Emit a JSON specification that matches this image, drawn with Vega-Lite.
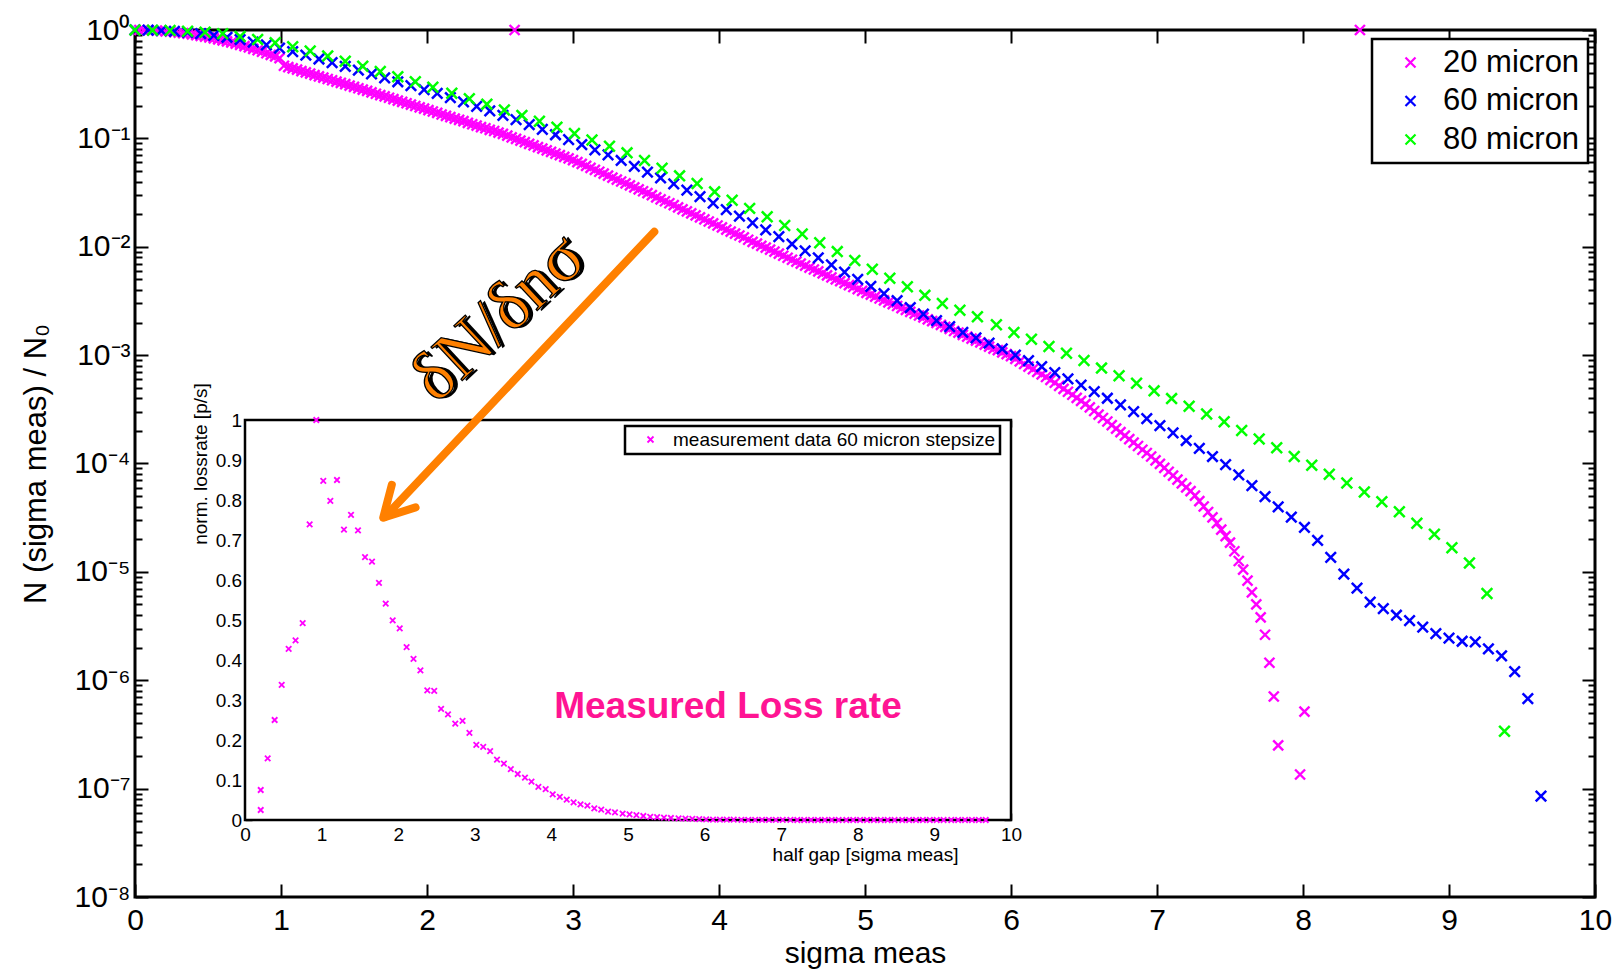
{
  "$schema": "https://vega.github.io/schema/vega-lite/v6.json",
  "width": 1460,
  "height": 867,
  "autosize": {"type": "none"},
  "padding": {"left": 135, "top": 30, "right": 23, "bottom": 75},
  "config": {
    "view": {"stroke": "#000", "strokeWidth": 3},
    "font": "Liberation Sans",
    "axis": {"domain": false, "grid": false, "labelFlush": false, "labelOverlap": false, "tickColor": "#000", "labelColor": "#000", "titleColor": "#000", "labelFont": "Liberation Sans", "titleFont": "Liberation Sans", "titleFontWeight": "normal"},
    "legend": {"strokeWidth": 2.5, "labelFont": "Liberation Sans", "labelColor": "#000"}
  },
  "datasets": {
    "m20": [{"x":0,"y":1},{"x":0.03,"y":1},{"x":0.06,"y":0.998},{"x":0.09,"y":0.995},{"x":0.12,"y":0.991},{"x":0.15,"y":0.986},{"x":0.18,"y":0.98},{"x":0.21,"y":0.973},{"x":0.24,"y":0.965},{"x":0.27,"y":0.956},{"x":0.3,"y":0.947},{"x":0.33,"y":0.936},{"x":0.36,"y":0.924},{"x":0.39,"y":0.911},{"x":0.42,"y":0.898},{"x":0.45,"y":0.884},{"x":0.48,"y":0.869},{"x":0.51,"y":0.853},{"x":0.54,"y":0.837},{"x":0.57,"y":0.82},{"x":0.6,"y":0.803},{"x":0.63,"y":0.785},{"x":0.66,"y":0.767},{"x":0.69,"y":0.748},{"x":0.72,"y":0.729},{"x":0.75,"y":0.71},{"x":0.78,"y":0.69},{"x":0.81,"y":0.67},{"x":0.84,"y":0.65},{"x":0.87,"y":0.63},{"x":0.9,"y":0.61},{"x":0.93,"y":0.59},{"x":0.96,"y":0.57},{"x":0.99,"y":0.55},
{"x":1.02,"y":0.468},{"x":1.05,"y":0.455},{"x":1.08,"y":0.443},{"x":1.11,"y":0.43},{"x":1.14,"y":0.418},{"x":1.17,"y":0.406},{"x":1.2,"y":0.395},{"x":1.23,"y":0.384},{"x":1.26,"y":0.374},{"x":1.29,"y":0.363},{"x":1.32,"y":0.353},{"x":1.35,"y":0.344},{"x":1.38,"y":0.334},{"x":1.41,"y":0.325},{"x":1.44,"y":0.316},{"x":1.47,"y":0.307},{"x":1.5,"y":0.299},{"x":1.53,"y":0.29},{"x":1.56,"y":0.282},{"x":1.59,"y":0.274},{"x":1.62,"y":0.266},{"x":1.65,"y":0.258},{"x":1.68,"y":0.251},{"x":1.71,"y":0.244},{"x":1.74,"y":0.237},{"x":1.77,"y":0.23},{"x":1.8,"y":0.223},{"x":1.83,"y":0.217},{"x":1.86,"y":0.211},{"x":1.89,"y":0.205},{"x":1.92,"y":0.199},{"x":1.95,"y":0.193},{"x":1.98,"y":0.188},{"x":2.01,"y":0.182},{"x":2.04,"y":0.177},{"x":2.07,"y":0.172},{"x":2.1,"y":0.166},{"x":2.13,"y":0.161},{"x":2.16,"y":0.157},{"x":2.19,"y":0.152},{"x":2.22,"y":0.148},{"x":2.25,"y":0.144},{"x":2.28,"y":0.139},{"x":2.31,"y":0.135},{"x":2.34,"y":0.131},{"x":2.37,"y":0.127},{"x":2.4,"y":0.124},{"x":2.43,"y":0.12},{"x":2.46,"y":0.117},{"x":2.49,"y":0.113},{"x":2.52,"y":0.11},{"x":2.55,"y":0.106},{"x":2.58,"y":0.102},{"x":2.6,"y":1},{"x":2.61,"y":0.0989},{"x":2.64,"y":0.0955},{"x":2.67,"y":0.0923},{"x":2.7,"y":0.0891},{"x":2.73,"y":0.0861},{"x":2.76,"y":0.0832},{"x":2.79,"y":0.0804},{"x":2.82,"y":0.0776},{"x":2.85,"y":0.075},{"x":2.88,"y":0.0724},{"x":2.91,"y":0.07},{"x":2.94,"y":0.0676},{"x":2.97,"y":0.0653},{"x":3,"y":0.0631},{"x":3.03,"y":0.0605},{"x":3.06,"y":0.0581},{"x":3.09,"y":0.0557},{"x":3.12,"y":0.0535},{"x":3.15,"y":0.0513},{"x":3.18,"y":0.0492},{"x":3.21,"y":0.0472},{"x":3.24,"y":0.0453},{"x":3.27,"y":0.0435},{"x":3.3,"y":0.0417},{"x":3.33,"y":0.04},{"x":3.36,"y":0.0384},{"x":3.39,"y":0.0368},{"x":3.42,"y":0.0353},{"x":3.45,"y":0.0339},{"x":3.48,"y":0.0325},{"x":3.51,"y":0.0312},{"x":3.54,"y":0.0299},{"x":3.57,"y":0.0286},{"x":3.6,"y":0.0274},{"x":3.63,"y":0.0263},{"x":3.66,"y":0.0252},{"x":3.69,"y":0.0242},{"x":3.72,"y":0.0231},{"x":3.75,"y":0.0221},{"x":3.78,"y":0.0212},{"x":3.81,"y":0.0203},{"x":3.84,"y":0.0195},{"x":3.87,"y":0.0187},{"x":3.9,"y":0.0179},{"x":3.93,"y":0.0171},{"x":3.96,"y":0.0164},{"x":3.99,"y":0.0157},{"x":4.02,"y":0.0151},{"x":4.05,"y":0.0144},{"x":4.08,"y":0.0138},{"x":4.11,"y":0.0132},{"x":4.14,"y":0.0127},{"x":4.17,"y":0.0122},{"x":4.2,"y":0.0116},{"x":4.23,"y":0.0111},{"x":4.26,"y":0.0107},{"x":4.29,"y":0.0102},{"x":4.32,"y":0.00981},{"x":4.35,"y":0.0094},{"x":4.38,"y":0.009},{"x":4.41,"y":0.00863},{"x":4.44,"y":0.00826},{"x":4.47,"y":0.00792},{"x":4.5,"y":0.00759},{"x":4.53,"y":0.00728},{"x":4.56,"y":0.00698},{"x":4.59,"y":0.0067},{"x":4.62,"y":0.00643},{"x":4.65,"y":0.00617},{"x":4.68,"y":0.00592},{"x":4.71,"y":0.00568},{"x":4.74,"y":0.00545},{"x":4.77,"y":0.00522},{"x":4.8,"y":0.00501},{"x":4.83,"y":0.00481},{"x":4.86,"y":0.00461},{"x":4.89,"y":0.00443},{"x":4.92,"y":0.00425},{"x":4.95,"y":0.00407},{"x":4.98,"y":0.00391},{"x":5.01,"y":0.00376},{"x":5.04,"y":0.00361},{"x":5.07,"y":0.00347},{"x":5.1,"y":0.00333},{"x":5.13,"y":0.0032},{"x":5.16,"y":0.00307},{"x":5.19,"y":0.00295},{"x":5.22,"y":0.00284},{"x":5.25,"y":0.00272},{"x":5.28,"y":0.00262},{"x":5.31,"y":0.00251},{"x":5.34,"y":0.00242},{"x":5.37,"y":0.00232},{"x":5.4,"y":0.00223},{"x":5.43,"y":0.00214},{"x":5.46,"y":0.00206},{"x":5.49,"y":0.00198},{"x":5.52,"y":0.0019},{"x":5.55,"y":0.00182},{"x":5.58,"y":0.00175},{"x":5.61,"y":0.00167},{"x":5.64,"y":0.00161},{"x":5.67,"y":0.00154},{"x":5.7,"y":0.00148},{"x":5.73,"y":0.00142},{"x":5.76,"y":0.00136},{"x":5.79,"y":0.00131},{"x":5.82,"y":0.00125},{"x":5.85,"y":0.0012},{"x":5.88,"y":0.00115},{"x":5.91,"y":0.00111},{"x":5.94,"y":0.00106},{"x":5.97,"y":0.00102},{"x":6,"y":0.000977},{"x":6.03,"y":0.000925},{"x":6.06,"y":0.000875},{"x":6.09,"y":0.000828},{"x":6.12,"y":0.000783},{"x":6.15,"y":0.000741},{"x":6.18,"y":0.000702},{"x":6.21,"y":0.000664},{"x":6.24,"y":0.000628},{"x":6.27,"y":0.000592},{"x":6.3,"y":0.000556},{"x":6.33,"y":0.000521},{"x":6.36,"y":0.000489},{"x":6.39,"y":0.000459},{"x":6.42,"y":0.000431},{"x":6.45,"y":0.000404},{"x":6.48,"y":0.000379},{"x":6.51,"y":0.000353},{"x":6.54,"y":0.000329},{"x":6.57,"y":0.000305},{"x":6.6,"y":0.000283},{"x":6.63,"y":0.000263},{"x":6.66,"y":0.000244},{"x":6.69,"y":0.000226},{"x":6.72,"y":0.00021},{"x":6.75,"y":0.000195},{"x":6.78,"y":0.000181},{"x":6.81,"y":0.000168},{"x":6.84,"y":0.000156},{"x":6.87,"y":0.000145},{"x":6.9,"y":0.000134},{"x":6.93,"y":0.000125},{"x":6.96,"y":0.000116},{"x":6.99,"y":0.000107},{"x":7.02,"y":9.91e-5},{"x":7.05,"y":9.12e-5},{"x":7.08,"y":8.39e-5},{"x":7.11,"y":7.73e-5},{"x":7.14,"y":7.11e-5},{"x":7.17,"y":6.55e-5},{"x":7.2,"y":6.03e-5},{"x":7.23,"y":5.55e-5},{"x":7.26,"y":5.05e-5},{"x":7.29,"y":4.5e-5},{"x":7.32,"y":4.01e-5},{"x":7.35,"y":3.57e-5},{"x":7.38,"y":3.18e-5},{"x":7.41,"y":2.82e-5},{"x":7.44,"y":2.45e-5},{"x":7.47,"y":2.14e-5},{"x":7.5,"y":1.86e-5},{"x":7.53,"y":1.55e-5},{"x":7.56,"y":1.26e-5},{"x":7.59,"y":1.05e-5},{"x":7.62,"y":8.32e-6},{"x":7.65,"y":6.46e-6},{"x":7.68,"y":5.01e-6},{"x":7.71,"y":3.8e-6},{"x":7.74,"y":2.63e-6},{"x":7.77,"y":1.45e-6},{"x":7.8,"y":7.08e-7},{"x":7.83,"y":2.51e-7},{"x":7.98,"y":1.35e-7},{"x":8.01,"y":5.13e-7},{"x":8.39,"y":1}],
    "m60": [{"x":0,"y":1},{"x":0.09,"y":0.997},{"x":0.18,"y":0.986},{"x":0.27,"y":0.972},{"x":0.36,"y":0.951},{"x":0.45,"y":0.925},{"x":0.54,"y":0.891},{"x":0.63,"y":0.857},{"x":0.72,"y":0.817},{"x":0.81,"y":0.774},{"x":0.9,"y":0.728},{"x":0.99,"y":0.681},{"x":1.08,"y":0.632},{"x":1.17,"y":0.585},{"x":1.26,"y":0.54},{"x":1.35,"y":0.499},{"x":1.44,"y":0.461},{"x":1.53,"y":0.427},{"x":1.62,"y":0.394},{"x":1.71,"y":0.362},{"x":1.8,"y":0.333},{"x":1.89,"y":0.307},{"x":1.98,"y":0.282},{"x":2.07,"y":0.26},{"x":2.16,"y":0.238},{"x":2.25,"y":0.217},{"x":2.34,"y":0.197},{"x":2.43,"y":0.179},{"x":2.52,"y":0.163},{"x":2.61,"y":0.149},{"x":2.7,"y":0.134},{"x":2.79,"y":0.121},{"x":2.88,"y":0.108},{"x":2.97,"y":0.0975},{"x":3.06,"y":0.0875},{"x":3.15,"y":0.0785},{"x":3.24,"y":0.0705},{"x":3.33,"y":0.0625},{"x":3.42,"y":0.0552},{"x":3.51,"y":0.0488},{"x":3.6,"y":0.0431},{"x":3.69,"y":0.038},{"x":3.78,"y":0.0333},{"x":3.87,"y":0.029},{"x":3.96,"y":0.0253},{"x":4.05,"y":0.022},{"x":4.14,"y":0.0192},{"x":4.23,"y":0.0166},{"x":4.32,"y":0.0143},{"x":4.41,"y":0.0124},{"x":4.5,"y":0.0106},{"x":4.59,"y":0.00918},{"x":4.68,"y":0.00791},{"x":4.77,"y":0.00679},{"x":4.86,"y":0.00583},{"x":4.95,"y":0.00501},{"x":5.04,"y":0.00431},{"x":5.13,"y":0.0037},{"x":5.22,"y":0.00318},{"x":5.31,"y":0.00275},{"x":5.4,"y":0.00239},{"x":5.49,"y":0.00208},{"x":5.58,"y":0.00183},{"x":5.67,"y":0.00162},{"x":5.76,"y":0.00144},{"x":5.85,"y":0.00129},{"x":5.94,"y":0.00114},{"x":6.03,"y":0.001},{"x":6.12,"y":0.000889},{"x":6.21,"y":0.000782},{"x":6.3,"y":0.000689},{"x":6.39,"y":0.000605},{"x":6.48,"y":0.000528},{"x":6.57,"y":0.00046},{"x":6.66,"y":0.0004},{"x":6.75,"y":0.000347},{"x":6.84,"y":0.000301},{"x":6.93,"y":0.00026},{"x":7.02,"y":0.000224},{"x":7.11,"y":0.000192},{"x":7.2,"y":0.000163},{"x":7.29,"y":0.000138},{"x":7.38,"y":0.000116},{"x":7.47,"y":9.75e-5},{"x":7.56,"y":7.85e-5},{"x":7.65,"y":6.24e-5},{"x":7.74,"y":4.95e-5},{"x":7.83,"y":3.98e-5},{"x":7.92,"y":3.2e-5},{"x":8.01,"y":2.57e-5},{"x":8.1,"y":1.95e-5},{"x":8.19,"y":1.36e-5},{"x":8.28,"y":9.55e-6},{"x":8.37,"y":7.08e-6},{"x":8.46,"y":5.25e-6},{"x":8.55,"y":4.57e-6},{"x":8.64,"y":3.98e-6},{"x":8.73,"y":3.55e-6},{"x":8.82,"y":3.09e-6},{"x":8.91,"y":2.69e-6},{"x":9,"y":2.45e-6},{"x":9.09,"y":2.29e-6},{"x":9.18,"y":2.26e-6},{"x":9.27,"y":1.95e-6},{"x":9.36,"y":1.68e-6},{"x":9.45,"y":1.2e-6},{"x":9.54,"y":6.76e-7},{"x":9.63,"y":8.51e-8}],
    "m80": [{"x":0,"y":1},{"x":0.12,"y":0.997},{"x":0.24,"y":0.988},{"x":0.36,"y":0.973},{"x":0.48,"y":0.953},{"x":0.6,"y":0.925},{"x":0.72,"y":0.871},{"x":0.84,"y":0.817},{"x":0.96,"y":0.764},{"x":1.08,"y":0.702},{"x":1.2,"y":0.641},{"x":1.32,"y":0.575},{"x":1.44,"y":0.515},{"x":1.56,"y":0.462},{"x":1.68,"y":0.414},{"x":1.8,"y":0.371},{"x":1.92,"y":0.333},{"x":2.04,"y":0.296},{"x":2.17,"y":0.261},{"x":2.29,"y":0.232},{"x":2.41,"y":0.207},{"x":2.53,"y":0.183},{"x":2.65,"y":0.163},{"x":2.77,"y":0.144},{"x":2.89,"y":0.127},{"x":3.01,"y":0.111},{"x":3.13,"y":0.0968},{"x":3.25,"y":0.0845},{"x":3.37,"y":0.0735},{"x":3.49,"y":0.0624},{"x":3.61,"y":0.053},{"x":3.73,"y":0.0451},{"x":3.85,"y":0.0384},{"x":3.97,"y":0.0321},{"x":4.09,"y":0.0269},{"x":4.21,"y":0.0226},{"x":4.33,"y":0.0189},{"x":4.45,"y":0.0157},{"x":4.57,"y":0.0131},{"x":4.69,"y":0.0109},{"x":4.81,"y":0.00902},{"x":4.93,"y":0.00746},{"x":5.05,"y":0.00619},{"x":5.17,"y":0.00513},{"x":5.29,"y":0.00427},{"x":5.41,"y":0.00356},{"x":5.53,"y":0.00299},{"x":5.65,"y":0.0026},{"x":5.77,"y":0.00226},{"x":5.9,"y":0.00191},{"x":6.02,"y":0.00162},{"x":6.14,"y":0.0014},{"x":6.26,"y":0.0012},{"x":6.38,"y":0.00104},{"x":6.5,"y":0.000891},{"x":6.62,"y":0.000759},{"x":6.74,"y":0.000646},{"x":6.86,"y":0.00055},{"x":6.98,"y":0.000468},{"x":7.1,"y":0.000397},{"x":7.22,"y":0.000337},{"x":7.34,"y":0.000286},{"x":7.46,"y":0.000243},{"x":7.58,"y":0.000202},{"x":7.7,"y":0.000168},{"x":7.82,"y":0.00014},{"x":7.94,"y":0.000116},{"x":8.06,"y":9.64e-5},{"x":8.18,"y":7.96e-5},{"x":8.3,"y":6.61e-5},{"x":8.42,"y":5.46e-5},{"x":8.54,"y":4.43e-5},{"x":8.66,"y":3.59e-5},{"x":8.78,"y":2.81e-5},{"x":8.9,"y":2.22e-5},{"x":9.02,"y":1.67e-5},{"x":9.14,"y":1.21e-5},{"x":9.26,"y":6.31e-6},{"x":9.38,"y":3.39e-7}],
    "ins": [{"x":0.205,"y":0.025},{"x":0.205,"y":0.075},{"x":0.296,"y":0.154},{"x":0.387,"y":0.25},{"x":0.479,"y":0.338},{"x":0.57,"y":0.428},{"x":0.66,"y":0.449},{"x":0.753,"y":0.492},{"x":0.844,"y":0.739},{"x":0.931,"y":1},{"x":1.022,"y":0.848},{"x":1.114,"y":0.798},{"x":1.201,"y":0.85},{"x":1.292,"y":0.726},{"x":1.384,"y":0.763},{"x":1.475,"y":0.724},{"x":1.567,"y":0.657},{"x":1.658,"y":0.646},{"x":1.749,"y":0.593},{"x":1.837,"y":0.541},{"x":1.928,"y":0.499},{"x":2.02,"y":0.479},{"x":2.11,"y":0.432},{"x":2.2,"y":0.403},{"x":2.29,"y":0.374},{"x":2.38,"y":0.324},{"x":2.47,"y":0.323},{"x":2.56,"y":0.278},{"x":2.65,"y":0.264},{"x":2.745,"y":0.241},{"x":2.84,"y":0.248},{"x":2.93,"y":0.218},{"x":3.02,"y":0.188},{"x":3.11,"y":0.183},{"x":3.2,"y":0.172},{"x":3.29,"y":0.151},{"x":3.38,"y":0.141},{"x":3.47,"y":0.127},{"x":3.56,"y":0.115},{"x":3.655,"y":0.106},{"x":3.74,"y":0.096},{"x":3.83,"y":0.083},{"x":3.925,"y":0.077},{"x":4.017,"y":0.064},{"x":4.11,"y":0.058},{"x":4.2,"y":0.051},{"x":4.29,"y":0.044},{"x":4.38,"y":0.039},{"x":4.47,"y":0.036},{"x":4.56,"y":0.029},{"x":4.65,"y":0.026},{"x":4.74,"y":0.021},{"x":4.83,"y":0.019},{"x":4.93,"y":0.016},{"x":5.02,"y":0.014},{"x":5.11,"y":0.012},{"x":5.2,"y":0.01},{"x":5.29,"y":0.008},{"x":5.38,"y":0.007},{"x":5.47,"y":0.006},{"x":5.56,"y":0.005},{"x":5.66,"y":0.004},{"x":5.75,"y":0.0035},{"x":5.84,"y":0.003},{"x":5.93,"y":0.002},{"x":6.02,"y":0.0015},{"x":6.11,"y":0.001},{"x":6.2,"y":0.001},{"x":6.29,"y":0.001},{"x":6.38,"y":0.0008},{"x":6.48,"y":0.0006},{"x":6.57,"y":0.0005},{"x":6.66,"y":0.0004},{"x":6.75,"y":0.0003},{"x":6.84,"y":0.0002},{"x":6.93,"y":0.0002},{"x":7.02,"y":0.0001},{"x":7.12,"y":0.0001},{"x":7.21,"y":0},{"x":7.3,"y":0},{"x":7.39,"y":0},{"x":7.48,"y":0},{"x":7.57,"y":0},{"x":7.66,"y":0},{"x":7.75,"y":0},{"x":7.85,"y":0},{"x":7.94,"y":0},{"x":8.03,"y":0},{"x":8.12,"y":0},{"x":8.21,"y":0},{"x":8.3,"y":0},{"x":8.39,"y":0},{"x":8.48,"y":0},{"x":8.58,"y":0},{"x":8.67,"y":0},{"x":8.76,"y":0},{"x":8.85,"y":0},{"x":8.94,"y":0},{"x":9.03,"y":0},{"x":9.12,"y":0},{"x":9.22,"y":0},{"x":9.31,"y":0},{"x":9.4,"y":0},{"x":9.49,"y":0},{"x":9.58,"y":0},{"x":9.67,"y":0}]
  },
  "resolve": {"scale": {"x": "independent", "y": "independent"}, "axis": {"x": "independent", "y": "independent"}},
  "layer": [
    {
      "resolve": {"axis": {"x": "independent", "y": "independent"}},
      "layer": [
        {
          "data": {"name": "m20"},
          "mark": {"type": "point", "shape": "M-1,-1L1,1M-1,1L1,-1", "filled": false, "size": 100, "strokeWidth": 2.4, "opacity": 1},
          "encoding": {
            "x": {"field": "x", "type": "quantitative", "scale": {"domain": [0, 10], "nice": false, "zero": false},
              "axis": {"orient": "bottom", "values": [0,1,2,3,4,5,6,7,8,9,10], "format": "d", "tickSize": -13, "tickWidth": 2, "labelFontSize": 30, "labelPadding": 21, "title": "sigma meas", "titleFontSize": 30, "titlePadding": 3}},
            "y": {"field": "y", "type": "quantitative", "scale": {"type": "log", "domain": [1e-8, 1], "nice": false},
              "axis": {"orient": "left", "values": [1,0.1,0.01,0.001,0.0001,1e-5,1e-6,1e-7,1e-8], "tickSize": -13, "tickWidth": 2, "labelFontSize": 30, "labelPadding": 18,
                "labelExpr": "'10' + ['⁰','⁻¹','⁻²','⁻³','⁻⁴','⁻⁵','⁻⁶','⁻⁷','⁻⁸'][round(-log(datum.value)/LN10)]",
                "title": "N (sigma meas) / N₀", "titleFontSize": 31, "titlePadding": 21}},
            "color": {"datum": "20 micron", "type": "nominal",
              "scale": {"domain": ["20 micron", "60 micron", "80 micron"], "range": ["#ff00ff", "#0000ff", "#00ff00"]},
              "legend": {"orient": "none", "legendX": 1237, "legendY": 9, "title": null, "labelFontSize": 31, "symbolType": "M-1,-1L1,1M-1,1L1,-1", "symbolSize": 100, "symbolStrokeWidth": 2.2, "symbolFillColor": "transparent", "strokeColor": "#000", "fillColor": "#fff", "padding": 8, "rowPadding": 6.5, "symbolOffset": 15, "labelOffset": 17, "labelLimit": 0}}
          }
        },
        {
          "data": {"name": "m60"},
          "mark": {"type": "point", "shape": "M-1,-1L1,1M-1,1L1,-1", "filled": false, "size": 110, "strokeWidth": 2.5, "opacity": 1},
          "encoding": {
            "x": {"field": "x", "type": "quantitative", "scale": {"domain": [0, 10], "nice": false, "zero": false}, "axis": null},
            "y": {"field": "y", "type": "quantitative", "scale": {"type": "log", "domain": [1e-8, 1], "nice": false}, "axis": null},
            "color": {"datum": "60 micron", "type": "nominal"}
          }
        },
        {
          "data": {"name": "m80"},
          "mark": {"type": "point", "shape": "M-1,-1L1,1M-1,1L1,-1", "filled": false, "size": 115, "strokeWidth": 2.5, "opacity": 1},
          "encoding": {
            "x": {"field": "x", "type": "quantitative", "scale": {"domain": [0, 10], "nice": false, "zero": false}, "axis": null},
            "y": {"field": "y", "type": "quantitative", "scale": {"type": "log", "domain": [1e-8, 1], "nice": false}, "axis": null},
            "color": {"datum": "80 micron", "type": "nominal"}
          }
        },
        {
          "data": {"values": [{}]},
          "mark": {"type": "point", "opacity": 0},
          "encoding": {
            "x": {"datum": 0, "type": "quantitative", "scale": {"domain": [0, 10], "nice": false, "zero": false},
              "axis": {"orient": "top", "values": [0,1,2,3,4,5,6,7,8,9,10], "tickSize": -13, "tickWidth": 2, "labels": false, "title": null}},
            "y": {"datum": 1, "type": "quantitative", "scale": {"type": "log", "domain": [1e-8, 1], "nice": false},
              "axis": {"orient": "right", "values": [1,0.1,0.01,0.001,0.0001,1e-5,1e-6,1e-7,1e-8], "tickSize": -13, "tickWidth": 2, "labels": false, "title": null}}
          }
        },
        {
          "data": {"values": [{}]},
          "mark": {"type": "point", "opacity": 0},
          "encoding": {
            "y": {"datum": 1, "type": "quantitative", "scale": {"type": "log", "domain": [1e-8, 1], "nice": false},
              "axis": {"orient": "left", "values": [2e-8,3e-8,4e-8,5e-8,6e-8,7e-8,8e-8,9e-8,2e-7,3e-7,4e-7,5e-7,6e-7,7e-7,8e-7,9e-7,2e-6,3e-6,4e-6,5e-6,6e-6,7e-6,8e-6,9e-6,2e-5,3e-5,4e-5,5e-5,6e-5,7e-5,8e-5,9e-5,2e-4,3e-4,4e-4,5e-4,6e-4,7e-4,8e-4,9e-4,2e-3,3e-3,4e-3,5e-3,6e-3,7e-3,8e-3,9e-3,2e-2,3e-2,4e-2,5e-2,6e-2,7e-2,8e-2,9e-2,0.2,0.3,0.4,0.5,0.6,0.7,0.8,0.9], "tickSize": -7, "tickWidth": 2, "labels": false, "title": null}}
          }
        },
        {
          "data": {"values": [{}]},
          "mark": {"type": "point", "opacity": 0},
          "encoding": {
            "y": {"datum": 1, "type": "quantitative", "scale": {"type": "log", "domain": [1e-8, 1], "nice": false},
              "axis": {"orient": "right", "values": [2e-8,3e-8,4e-8,5e-8,6e-8,7e-8,8e-8,9e-8,2e-7,3e-7,4e-7,5e-7,6e-7,7e-7,8e-7,9e-7,2e-6,3e-6,4e-6,5e-6,6e-6,7e-6,8e-6,9e-6,2e-5,3e-5,4e-5,5e-5,6e-5,7e-5,8e-5,9e-5,2e-4,3e-4,4e-4,5e-4,6e-4,7e-4,8e-4,9e-4,2e-3,3e-3,4e-3,5e-3,6e-3,7e-3,8e-3,9e-3,2e-2,3e-2,4e-2,5e-2,6e-2,7e-2,8e-2,9e-2,0.2,0.3,0.4,0.5,0.6,0.7,0.8,0.9], "tickSize": -7, "tickWidth": 2, "labels": false, "title": null}}
          }
        }
      ]
    },
    {
      "resolve": {"axis": {"x": "independent", "y": "independent"}},
      "layer": [
        {
          "data": {"values": [{}]},
          "mark": {"type": "rect", "fill": "#fff", "stroke": "#000", "strokeWidth": 2.5},
          "encoding": {
            "x": {"datum": 0, "type": "quantitative", "scale": {"domain": [-1.436, 17.624], "nice": false, "zero": false},
              "axis": {"orient": "bottom", "offset": -77, "values": [0,1,2,3,4,5,6,7,8,9,10], "format": "d", "tickSize": -7, "tickWidth": 1.5, "labelFontSize": 19, "labelPadding": 12.7, "title": "half gap [sigma meas]", "titleFontSize": 19, "titlePadding": 1}},
            "x2": {"datum": 10},
            "y": {"datum": 0, "type": "quantitative", "scale": {"domain": [-0.1925, 1.975], "nice": false, "zero": false},
              "axis": {"orient": "left", "offset": -110, "values": [0,0.1,0.2,0.3,0.4,0.5,0.6,0.7,0.8,0.9,1], "format": "~g", "tickSize": -7, "tickWidth": 1.5, "labelFontSize": 19, "labelPadding": 10.3, "title": "norm. lossrate [p/s]", "titleFontSize": 19, "titlePadding": 5}},
            "y2": {"datum": 1}
          }
        },
        {
          "data": {"values": [{}]},
          "mark": {"type": "point", "opacity": 0},
          "encoding": {
            "x": {"datum": 0, "type": "quantitative", "scale": {"domain": [-1.436, 17.624], "nice": false, "zero": false},
              "axis": {"orient": "top", "offset": -390, "values": [0,1,2,3,4,5,6,7,8,9,10], "tickSize": -7, "tickWidth": 1.5, "labels": false, "title": null}},
            "y": {"datum": 0, "type": "quantitative", "scale": {"domain": [-0.1925, 1.975], "nice": false, "zero": false},
              "axis": {"orient": "right", "offset": -584, "values": [0,0.1,0.2,0.3,0.4,0.5,0.6,0.7,0.8,0.9,1], "tickSize": -7, "tickWidth": 1.5, "labels": false, "title": null}}
          }
        },
        {
          "data": {"name": "ins"},
          "mark": {"type": "point", "filled": false, "size": 30, "strokeWidth": 1.8, "color": "#ff00ff", "opacity": 1},
          "encoding": {
            "x": {"field": "x", "type": "quantitative", "scale": {"domain": [-1.436, 17.624], "nice": false, "zero": false}, "axis": null},
            "y": {"field": "y", "type": "quantitative", "scale": {"domain": [-0.1925, 1.975], "nice": false, "zero": false}, "axis": null},
            "shape": {"datum": "measurement data 60 micron stepsize", "type": "nominal",
              "scale": {"range": ["M-1,-1L1,1M-1,1L1,-1"]},
              "legend": {"orient": "none", "legendX": 490, "legendY": 396, "title": null, "labelFontSize": 19, "symbolSize": 36, "symbolStrokeColor": "#ff00ff", "symbolStrokeWidth": 1.8, "symbolFillColor": "transparent", "strokeColor": "#000", "fillColor": "#fff", "padding": 4, "symbolOffset": 12, "labelOffset": 13, "labelLimit": 0}}
          }
        },
        {
          "data": {"values": [{}]},
          "mark": {"type": "text", "text": "Measured Loss rate", "fontSize": 37, "fontWeight": "bold", "font": "Liberation Sans", "color": "#ff1493", "align": "center", "baseline": "alphabetic"},
          "encoding": {
            "x": {"datum": 6.305, "type": "quantitative", "scale": {"domain": [-1.436, 17.624], "nice": false, "zero": false}, "axis": null},
            "y": {"datum": 0.256, "type": "quantitative", "scale": {"domain": [-0.1925, 1.975], "nice": false, "zero": false}, "axis": null}
          }
        }
      ]
    },
    {
      "layer": [
        {
          "data": {"values": [{}]},
          "mark": {"type": "rule", "color": "#ff8000", "strokeWidth": 8, "strokeCap": "round"},
          "encoding": {
            "x": {"datum": 3.557, "type": "quantitative", "scale": {"domain": [0, 10], "nice": false, "zero": false}, "axis": null},
            "y": {"datum": 0.01377, "type": "quantitative", "scale": {"type": "log", "domain": [1e-8, 1], "nice": false}, "axis": null},
            "x2": {"datum": 1.71},
            "y2": {"datum": 3.2e-5}
          }
        },
        {
          "data": {"values": [{}]},
          "mark": {"type": "point", "shape": "M-1,-0.55L0,0L-1,0.55", "filled": false, "size": 3550, "strokeWidth": 8, "strokeCap": "round", "strokeJoin": "round", "color": "#ff8000", "opacity": 1, "angle": 133.5},
          "encoding": {
            "x": {"datum": 1.70, "type": "quantitative", "scale": {"domain": [0, 10], "nice": false, "zero": false}, "axis": null},
            "y": {"datum": 3.16e-5, "type": "quantitative", "scale": {"type": "log", "domain": [1e-8, 1], "nice": false}, "axis": null}
          }
        },
        {
          "data": {"values": [{}]},
          "mark": {"type": "text", "text": "δN/δnσ", "font": "Liberation Serif", "fontSize": 70, "angle": -43, "color": "#000", "dx": 3, "dy": 3, "align": "center", "baseline": "middle"},
          "encoding": {
            "x": {"datum": 2.49, "type": "quantitative", "scale": {"domain": [0, 10], "nice": false, "zero": false}, "axis": null},
            "y": {"datum": 0.0022, "type": "quantitative", "scale": {"type": "log", "domain": [1e-8, 1], "nice": false}, "axis": null}
          }
        },
        {
          "data": {"values": [{}]},
          "mark": {"type": "text", "text": "δN/δnσ", "font": "Liberation Serif", "fontSize": 70, "angle": -43, "color": "#ff8000", "stroke": "#000", "strokeWidth": 1.3, "align": "center", "baseline": "middle"},
          "encoding": {
            "x": {"datum": 2.49, "type": "quantitative", "scale": {"domain": [0, 10], "nice": false, "zero": false}, "axis": null},
            "y": {"datum": 0.0022, "type": "quantitative", "scale": {"type": "log", "domain": [1e-8, 1], "nice": false}, "axis": null}
          }
        }
      ]
    }
  ]
}
